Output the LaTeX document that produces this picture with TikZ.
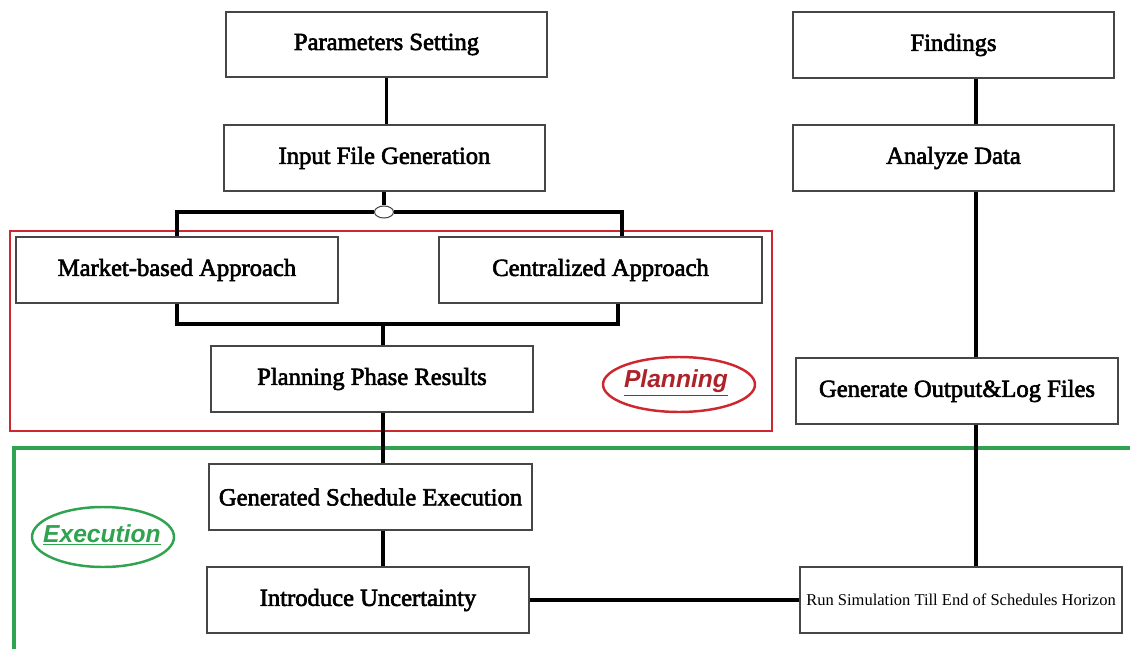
\documentclass[tikz,border=0pt]{standalone}
\usepackage{fontspec}
\setmainfont{Liberation Serif}
\newfontfamily\boxfont[FakeBold=2.5]{Liberation Serif}
\newfontfamily\labfont{Liberation Sans}
\usetikzlibrary{shapes.geometric,calc}
\definecolor{planred}{RGB}{205,40,48}
\definecolor{execgreen}{RGB}{48,163,80}
\definecolor{boxline}{RGB}{70,70,70}
\begin{document}
\begin{tikzpicture}[x=0.02cm,y=-0.02cm,
  box/.style={draw=boxline,line width=0.65pt,rectangle,minimum width=6.44cm,minimum height=1.32cm,inner sep=0pt,font=\boxfont\fontsize{14}{16}\selectfont},
  conn/.style={line width=2pt,black},
  tag/.style={inner sep=0pt,font=\labfont\bfseries\itshape\fontsize{14}{16}\selectfont},
  ring/.style={line width=1.4pt}]
\useasboundingbox (0,0) rectangle (1130,649);
\fill[white] (0,0) rectangle (1130,649);

% frames
\draw[planred,line width=1.7pt] (10,231) rectangle (772,431);
\draw[execgreen,line width=2.2pt] (1135,448) -- (14,448) -- (14,655);

% boxes
\node[box,minimum width=6.42cm,minimum height=1.3cm] (param) at (386.5,44.5) {Parameters Setting};
\node[box,minimum width=6.42cm] (input) at (384.5,158) {Input File Generation};
\node[box,minimum width=6.42cm] (find) at (953.5,45) {Findings};
\node[box,minimum width=6.42cm] (an) at (953.5,158) {Analyze Data};
\node[box] (market) at (177,270) {Market-based Approach};
\node[box,minimum width=6.46cm] (cent) at (600.5,270) {Centralized Approach};
\node[box] (plan) at (372,379) {Planning Phase Results};
\node[box,minimum width=6.46cm] (gen) at (370.5,497) {Generated Schedule Execution};
\node[box] (intro) at (368,600) {Introduce Uncertainty};
\node[box] (out) at (957,391) {Generate Output\&Log Files};
\node[box,font=\fontsize{9.4}{11}\selectfont] (run) at (961,600) {Run Simulation Till End of Schedules Horizon};

% tags
\node[tag,text=planred!85!black] (ptag) at (676,383) {\underline{Planning}};
\draw[ring,planred] (679,384.5) ellipse [x radius=1.52cm, y radius=0.55cm];
\node[tag,text=execgreen] (etag) at (102,535) {\underline{Execution}};
\draw[ring,execgreen] (103,537) ellipse [x radius=1.42cm, y radius=0.6cm];

% junction
\node[ellipse,draw=boxline,line width=0.6pt,fill=white,minimum width=0.38cm,minimum height=0.24cm,inner sep=0pt] (junc) at (384,212) {};

\coordinate (bus) at (383,324);
\coordinate (rx) at (976,0);

% connectors
\draw[conn] (param.south) -- (param.south |- input.north);
\draw[conn] (input.south -| junc.north) -- (junc.north);
\draw[conn] (junc.west) -| (market.north);
\draw[conn] (junc.east) -| ([xshift=0.43cm]cent.north);
\draw[conn] (market.south) |- (bus) -| ([xshift=0.35cm]cent.south);
\draw[conn] (bus) -- (bus |- plan.north);
\draw[conn] (plan.south -| bus) -- (gen.north -| bus);
\draw[conn] (gen.south -| bus) -- (intro.north -| bus);
\draw[conn] (intro.east) -- (run.west);
\draw[conn] (run.north -| rx) -- (out.south -| rx);
\draw[conn] (out.north -| rx) -- (an.south -| rx);
\draw[conn] (an.north -| rx) -- (find.south -| rx);
\end{tikzpicture}
\end{document}
